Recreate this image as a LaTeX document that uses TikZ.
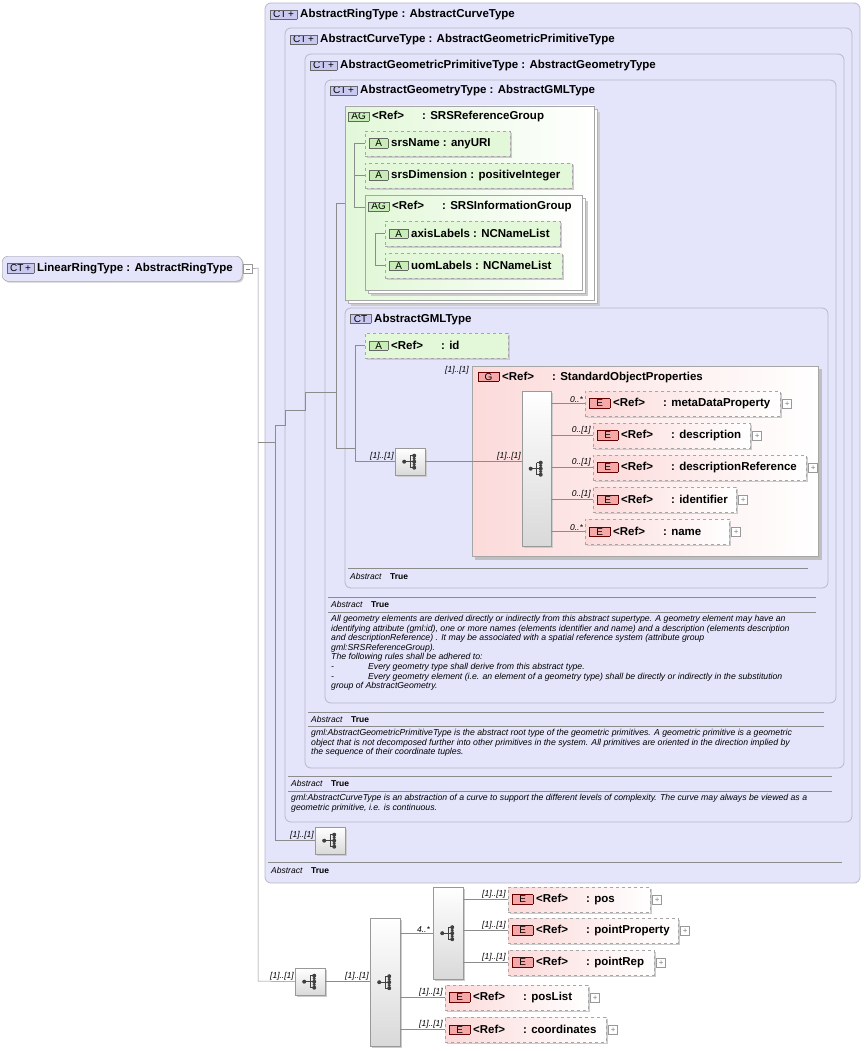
\documentclass[tikz,border=0pt]{standalone}
\usepackage{fontspec}
\setmainfont{Liberation Sans}
\usetikzlibrary{positioning}
\usetikzlibrary{shadows}
\definecolor{ctfill}{HTML}{E4E4FB}
\definecolor{ctline}{HTML}{B8B8C8}
\definecolor{grfill}{HTML}{E2F8D8}
\definecolor{pkfill}{HTML}{FCDADA}
\definecolor{badgered}{HTML}{F4A8A8}
\definecolor{badgegreen}{HTML}{C8EEB8}
\definecolor{badgeblue}{HTML}{C8C8F0}
\newcommand{\bdg}[4]{{\setlength{\fboxsep}{1pt}\fcolorbox{#1}{#2}{\makebox[#4]{\normalfont\fontsize{10}{11}\selectfont #3}}}}
\newcommand{\CTp}{\bdg{black!60}{badgeblue}{CT\,+}{24pt}}
\newcommand{\CTn}{\bdg{black!60}{badgeblue}{CT}{18pt}}
\newcommand{\AGb}{\bdg{black!60}{badgegreen}{AG}{18pt}}
\newcommand{\Ab}{\bdg{black!60}{badgegreen}{A}{16pt}}
\newcommand{\Eb}{\bdg{red!40!black}{badgered}{E}{18pt}}
\newcommand{\Gb}{\bdg{red!40!black}{badgered}{G}{18pt}}
\newcommand{\rf}[1]{\makebox[50pt][l]{<Ref>}: #1}
\tikzset{
    ctbox/.style = {draw=ctline, fill=ctfill, line width=0.8pt, rounded corners=6pt},
    head/.style = {anchor=west, inner sep=0pt, font=\fontsize{11.5}{13}\selectfont\bfseries},
    attr/.style = {draw=black!35, dashed, fill=grfill, anchor=north west, minimum height=25, inner sep=0pt,
                   drop shadow={shadow xshift=2pt, shadow yshift=-2pt, fill=black!20, opacity=1}},
    elem/.style = {draw=black!35, dashed, left color=pkfill, right color=white, anchor=north west, minimum height=25, inner sep=0pt,
                   drop shadow={shadow xshift=2pt, shadow yshift=-2pt, fill=black!20, opacity=1}},
    seqbox/.style = {draw=black!40, top color=white, bottom color=black!15, anchor=north west, inner sep=0pt,
                   drop shadow={shadow xshift=1.5pt, shadow yshift=-1.5pt, fill=black!20, opacity=1}},
    plusbox/.style = {draw=black!40, fill=white, minimum size=9, inner sep=0pt, font=\fontsize{8}{8}\selectfont, text=black!50},
    mult/.style = {font=\fontsize{8.5}{9}\selectfont\itshape, inner sep=1pt, anchor=south east},
    absl/.style = {anchor=west, inner sep=0pt, font=\fontsize{8.5}{9}\selectfont},
    note/.style = {anchor=north west, align=left, inner sep=0pt, font=\fontsize{8.7}{9.6}\selectfont\itshape},
    sep/.style = {draw=black!45, line width=0.4pt},
    tree/.style = {draw=black!45, line width=0.5pt},
    seqglyph/.pic = {
        \draw[black!75, line width=0.9pt] (-6,0) -- (0,0) (0,-6) -- (0,6) (0,-6) -- (4,-6) (0,6) -- (4,6) (0,0) -- (4,0);
        \fill[black!75] (-6,0) circle (2) (4,-6) circle (2) (4,0) circle (2) (4,6) circle (2) (4,-3) circle (1.7) (4,3) circle (1.7);}
}
\begin{document}
\begin{tikzpicture}[x=1pt, y=-1pt]
\useasboundingbox (0,0) rectangle (865,1051);
% nested complex types
\draw[ctbox] (265,3) rectangle (860,883);
\node[head] (ctRing) at (270,15) {\CTp\ AbstractRingType : AbstractCurveType};
\draw[ctbox] (285,28) rectangle (852,822);
\node[head] (ctCurve) at (290,40) {\CTp\ AbstractCurveType : AbstractGeometricPrimitiveType};
\draw[ctbox] (305,54) rectangle (844,768);
\node[head] (ctPrim) at (310,66) {\CTp\ AbstractGeometricPrimitiveType : AbstractGeometryType};
\draw[ctbox] (325,80) rectangle (836,703);
\node[head] (ctGeom) at (330,91) {\CTp\ AbstractGeometryType : AbstractGMLType};

% attribute groups
\fill[black!20] (351,112) rectangle (600,306);
\draw[black!30, fill=white] (348,109) rectangle (597,303);
\draw[black!35, left color=grfill, right color=white] (345,106) rectangle (594,300);
\node[head] (agSRS) at (348,117) {\AGb\ \rf{SRSReferenceGroup}};
\node[attr, minimum width=145] (aName) at (365,131) {};
\node[head] at ([xshift=4]aName.west) {\Ab\ srsName : anyURI};
\node[attr, minimum width=207] (aDim) at (365,163) {};
\node[head] at ([xshift=4]aDim.west) {\Ab\ srsDimension : positiveInteger};
\fill[black!20] (371,201) rectangle (588,296);
\draw[black!30, fill=white] (368,198) rectangle (585,293);
\draw[black!35, left color=grfill, right color=white] (365,195) rectangle (582,290);
\node[head] (agInfo) at (368,207) {\AGb\ \makebox[50pt][l]{<Ref>}: SRSInformationGroup};
\node[attr, minimum width=175] (aAxis) at (385,221) {};
\node[head] at ([xshift=4]aAxis.west) {\Ab\ axisLabels : NCNameList};
\node[attr, minimum width=177] (aUom) at (385,253) {};
\node[head] at ([xshift=4]aUom.west) {\Ab\ uomLabels : NCNameList};
\draw[tree] (aName.west) -- ++(-11,0) |- (agInfo.west -| 365,0);
\draw[tree] ([xshift=-11]aDim.west) -- (aDim.west);
\draw[tree] (aAxis.west) -- ++(-10,0) |- (aUom.west);

% AbstractGMLType
\draw[ctbox] (345,308) rectangle (828,588);
\node[head] (ctGML) at (350,319) {\CTn\ AbstractGMLType};
\node[attr, minimum width=143] (aId) at (365,333) {};
\node[head] at ([xshift=4]aId.west) {\Ab\ \makebox[50pt][l]{<Ref>}: id};
\node[seqbox, minimum width=30, minimum height=27] (seqGML) at (395,448) {};
\pic at (seqGML.center) {seqglyph};
\draw[black!25, fill=black!25] (475,369) rectangle (821,559);
\draw[black!35, left color=pkfill, right color=white] (472,366) rectangle (818,556);
\node[head] (gSOP) at (478,377) {\Gb\ \rf{StandardObjectProperties}};
\node[mult] at (470,375) {[1]..[1]};
\node[seqbox, minimum width=29, minimum height=155] (seqSOP) at (522,391) {};
\pic at (seqSOP.center) {seqglyph};
\node[elem, minimum width=195] (eMeta) at (585,391) {};
\node[head] at ([xshift=4]eMeta.west) {\Eb\ \rf{metaDataProperty}};
\node[elem, minimum width=157] (eDesc) at (593,423) {};
\node[head] at ([xshift=4]eDesc.west) {\Eb\ \rf{description}};
\node[elem, minimum width=213] (eDescRef) at (593,455) {};
\node[head] at ([xshift=4]eDescRef.west) {\Eb\ \rf{descriptionReference}};
\node[elem, minimum width=143] (eIdent) at (593,487) {};
\node[head] at ([xshift=4]eIdent.west) {\Eb\ \rf{identifier}};
\node[elem, minimum width=144] (eName) at (585,519) {};
\node[head] at ([xshift=4]eName.west) {\Eb\ \rf{name}};
\foreach \e/\m in {eMeta/0..*, eDesc/0..[1], eDescRef/0..[1], eIdent/0..[1], eName/0..*} {
    \draw[tree] (seqSOP.east |- \e.west) -- (\e.west);
    \node[mult] at ([xshift=-1]\e.west) {\m};
    \node[plusbox, right=2pt of \e] {+};
}
\draw[tree] (seqGML.east) -- (seqSOP.west |- seqGML.east);
\node[mult] at (seqSOP.west |- seqGML.east) {[1]..[1]};
\draw[tree] (aId.west) -- ++(-10,0) |- (seqGML.west);
\node[mult] at (seqGML.west) {[1]..[1]};
\draw[sep] (348,568) -- (808,568);
\node[absl] at (350,576) {\textit{Abstract}\quad\textbf{True}};

% notes
\draw[sep] (328,597) -- (816,597);
\node[absl] at (331,604) {\textit{Abstract}\quad\textbf{True}};
\draw[sep] (328,612) -- (816,612);
\node[note] at (331,615) {All geometry elements are derived directly or indirectly from this abstract supertype. A geometry element may have an\\
identifying attribute (gml:id), one or more names (elements identifier and name) and a description (elements description\\
and descriptionReference) . It may be associated with a spatial reference system (attribute group\\
gml:SRSReferenceGroup).\\
The following rules shall be adhered to:\\
-\hspace{34pt}Every geometry type shall derive from this abstract type.\\
-\hspace{34pt}Every geometry element (i.e. an element of a geometry type) shall be directly or indirectly in the substitution\\
group of AbstractGeometry.};
\draw[sep] (308,712) -- (824,712);
\node[absl] at (311,719) {\textit{Abstract}\quad\textbf{True}};
\draw[sep] (308,726) -- (824,726);
\node[note] at (311,729) {gml:AbstractGeometricPrimitiveType is the abstract root type of the geometric primitives. A geometric primitive is a geometric\\
object that is not decomposed further into other primitives in the system. All primitives are oriented in the direction implied by\\
the sequence of their coordinate tuples.};
\draw[sep] (288,776) -- (832,776);
\node[absl] at (291,783) {\textit{Abstract}\quad\textbf{True}};
\draw[sep] (288,791) -- (832,791);
\node[note] at (291,794) {gml:AbstractCurveType is an abstraction of a curve to support the different levels of complexity. The curve may always be viewed as a\\
geometric primitive, i.e. is continuous.};

\node[seqbox, minimum width=30, minimum height=27] (seqRing) at (315,827) {};
\pic at (seqRing.center) {seqglyph};
\node[mult] at (seqRing.west) {[1]..[1]};
\draw[sep] (268,862) -- (842,862);
\node[absl] at (271,870) {\textit{Abstract}\quad\textbf{True}};

% inheritance tree lines
\coordinate (tA) at (275,425);
\coordinate (tB) at (285,410);
\coordinate (tC) at (305,392);
\coordinate (tD) at (336,392);
\draw[tree] (tA) -- (tA |- seqRing.west) -- (seqRing.west);
\draw[tree] (tA) -| (tB) -| (tC) -- (tD);
\draw[tree] (345,203) -- (336,203) -- (336,448) -- (355,448);

% root element
\node[draw=black!40, fill=ctfill, rounded corners=6pt, anchor=north west, minimum width=240, minimum height=25,
      drop shadow={shadow xshift=1.5pt, shadow yshift=-1.5pt, fill=black!20, opacity=1}] (lrt) at (2,256) {};
\node[head] at ([xshift=5]lrt.west) {\CTp\ LinearRingType : AbstractRingType};
\node[draw=black!40, fill=white, minimum size=9, inner sep=0pt, right=1pt of lrt] (lrtMinus) {};
\draw[black!50] ([xshift=-2]lrtMinus.center) -- ([xshift=2]lrtMinus.center);
\coordinate (trunk) at (258,268);
\draw[tree] (lrtMinus.east) -- (trunk) -- (258,981);
\draw[tree] (258,442) -- (tA |- 0,442) -- (tA);

% content model
\node[seqbox, minimum width=30, minimum height=27] (seqLR) at (295,968) {};
\pic at (seqLR.center) {seqglyph};
\node[seqbox, minimum width=30, minimum height=128] (choiceLR) at (370,918) {};
\pic at (choiceLR.center) {seqglyph};
\node[seqbox, minimum width=30, minimum height=92] (choicePts) at (433,887) {};
\pic at (choicePts.center) {seqglyph};
\draw[tree] (258,981) -- (seqLR.west);
\node[mult] at (seqLR.west) {[1]..[1]};
\draw[tree] (seqLR.east) -- (choiceLR.west |- seqLR.east);
\node[mult] at (choiceLR.west |- seqLR.east) {[1]..[1]};
\draw[tree] (choiceLR.east |- choicePts.west) -- (choicePts.west);
\node[mult] at ([xshift=-2]choicePts.west) {4..*};
\node[elem, minimum width=142] (ePos) at (508,887) {};
\node[head] at ([xshift=4]ePos.west) {\Eb\ \rf{pos}};
\node[elem, minimum width=170] (ePointProp) at (508,918) {};
\node[head] at ([xshift=4]ePointProp.west) {\Eb\ \rf{pointProperty}};
\node[elem, minimum width=146] (ePointRep) at (508,950) {};
\node[head] at ([xshift=4]ePointRep.west) {\Eb\ \rf{pointRep}};
\node[elem, minimum width=143] (ePosList) at (445,985) {};
\node[head] at ([xshift=4]ePosList.west) {\Eb\ \rf{posList}};
\node[elem, minimum width=161] (eCoords) at (445,1017) {};
\node[head] at ([xshift=4]eCoords.west) {\Eb\ \rf{coordinates}};
\foreach \e in {ePos, ePointProp, ePointRep} {
    \draw[tree] (choicePts.east |- \e.west) -- (\e.west);
    \node[mult] at ([xshift=-1]\e.west) {[1]..[1]};
    \node[plusbox, right=2pt of \e] {+};
}
\foreach \e in {ePosList, eCoords} {
    \draw[tree] (choiceLR.east |- \e.west) -- (\e.west);
    \node[mult] at ([xshift=-1]\e.west) {[1]..[1]};
    \node[plusbox, right=2pt of \e] {+};
}
\end{tikzpicture}
\end{document}
